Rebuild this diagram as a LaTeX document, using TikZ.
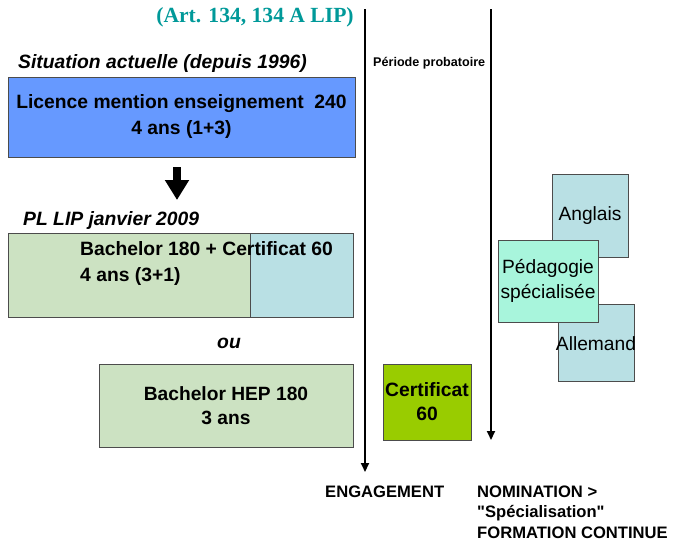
\documentclass[tikz,border=0pt]{standalone}
\usepackage{fontspec}
\setmainfont{Liberation Sans}[Ligatures=TeXOff]
\newfontfamily\titlefont{Liberation Serif}
\usetikzlibrary{arrows.meta}
\definecolor{licblue}{RGB}{102,153,255}
\definecolor{bachgreen}{RGB}{204,226,194}
\definecolor{certcyan}{RGB}{185,224,228}
\definecolor{pedagreen}{RGB}{168,245,220}
\definecolor{certlime}{RGB}{153,204,0}
\definecolor{artteal}{RGB}{0,153,153}

\begin{document}
\begin{tikzpicture}[x=1pt, y=-1pt,
    bloc/.style={draw=black!70, line width=0.8pt, inner sep=0pt, align=center},
    gras/.style={font=\fontsize{19.3}{26}\selectfont\bfseries},
    maigre/.style={font=\fontsize{19.2}{25}\selectfont},
    titre/.style={font=\fontsize{19.3}{23}\selectfont\bfseries\itshape},
    bas/.style={font=\fontsize{16.6}{20.5}\selectfont\bfseries, inner sep=0pt, align=left},
    axe/.style={line width=1.8pt, -{Triangle[length=9pt, width=8pt]}}]
    \useasboundingbox (0,0) rectangle (676,541);

    \coordinate (eng1) at (365,9);
    \coordinate (eng2) at (365,472);
    \coordinate (nom1) at (491,9);
    \coordinate (nom2) at (491,440);
    \coordinate (fl1) at (177,167);
    \coordinate (fl2) at (177,200);

    \node[font=\fontsize{21.6}{24}\selectfont\titlefont\bfseries, text=artteal, anchor=base] (art) at (255,22) {(Art. 134, 134 A LIP)};

    \draw[axe] (eng1) -- (eng2);
    \draw[axe] (nom1) -- (nom2);
    \node[font=\fontsize{12.6}{14}\selectfont\bfseries, inner sep=0pt, anchor=base west] (proba) at (373,66) {Période probatoire};

    % situation actuelle
    \node[titre, inner sep=0pt, anchor=base west] (sit) at (18,68) {Situation actuelle (depuis 1996)};
    \node[bloc, gras, fill=licblue, minimum width=347pt, minimum height=80pt] (lic) at (181.5,117)
      {Licence mention enseignement\ \ 240\\4 ans (1+3)};
    \draw[line width=8pt, -{Triangle[length=20pt, width=23pt]}] (fl1) -- (fl2);

    % projet de loi
    \node[titre, inner sep=0pt, anchor=base west] (pl) at (23,225) {PL LIP janvier 2009};
    \node[bloc, fill=bachgreen, minimum width=242pt, minimum height=84pt] (bach) at (129,275) {};
    \node[bloc, fill=certcyan, minimum width=103pt, minimum height=84pt] (cert) at (301.5,275) {};
    \node[gras, inner sep=0pt, align=left, anchor=west] (bachtxt) at (80,264) {Bachelor 180 + Certificat 60\\4 ans (3+1)};

    \node[titre, inner sep=0pt, anchor=base] (ou) at (229,348) {ou};
    \node[bloc, gras, fill=bachgreen, minimum width=254pt, minimum height=83pt, font=\fontsize{19.2}{24}\selectfont\bfseries] (hep) at (226,405.5)
      {Bachelor HEP 180\\3 ans};
    \node[bloc, gras, fill=certlime, minimum width=88pt, minimum height=76pt, font=\fontsize{19.3}{24}\selectfont\bfseries] (cert60) at (427,402)
      {Certificat\\60};

    % formation continue
    \node[bloc, maigre, fill=certcyan, minimum width=76pt, minimum height=83pt] (angl) at (590,215.5) {Anglais};
    \node[bloc, fill=certcyan, minimum width=76pt, minimum height=77pt] (alle) at (596,342.5) {};
    \node[maigre, inner sep=0pt] (alletxt) at (596,344) {Allemand};
    \node[bloc, maigre, fill=pedagreen, minimum width=100pt, minimum height=82pt] (peda) at (548,281)
      {Pédagogie\\spécialisée};

    \node[bas, anchor=base west] (engag) at (325,497) {ENGAGEMENT};
    \node[bas, anchor=base west] (nomin) at (477,538) {NOMINATION >\\"Spécialisation"\\FORMATION CONTINUE};
\end{tikzpicture}
\end{document}
